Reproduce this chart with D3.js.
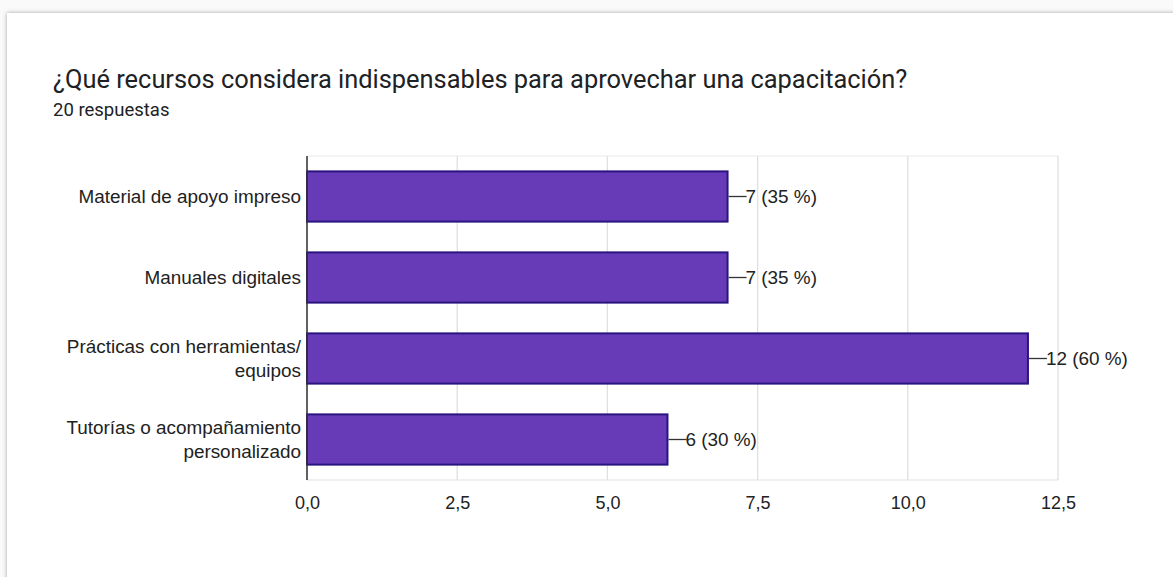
<!DOCTYPE html>
<html>
<head>
<meta charset="utf-8">
<script src="https://cdn.jsdelivr.net/npm/d3@7"></script>
<style>
  body { margin: 0; background: #fafafa; }
  svg { display: block; }
</style>
</head>
<body>
<div id="chart"></div>
<script>
const categories = [
    ["Material de apoyo impreso"],
    ["Manuales digitales"],
    ["Prácticas con herramientas/", "equipos"],
    ["Tutorías o acompañamiento", "personalizado"]
];
const counts = [7, 7, 12, 6];
const percents = [35, 35, 60, 30];
const ticks = [0, 2.5, 5, 7.5, 10, 12.5];
const title = "¿Qué recursos considera indispensables para aprovechar una capacitación?";
const subtitle = "20 respuestas";

const W = 1173, H = 577;
const margin = { top: 156, right: 115, bottom: 97, left: 307 },
      width = W - margin.left - margin.right,
      height = H - margin.top - margin.bottom;

const root = d3.select("#chart").append("svg")
    .attr("width", W)
    .attr("height", H);

const defs = root.append("defs");
const shadow = defs.append("filter").attr("id", "shadow")
    .attr("x", "-5%").attr("y", "-5%").attr("width", "110%").attr("height", "110%");
shadow.append("feDropShadow")
    .attr("dx", 0).attr("dy", 0).attr("stdDeviation", 2)
    .attr("flood-color", "#000").attr("flood-opacity", 0.35);

// card
root.append("rect")
    .attr("x", 7).attr("y", 13)
    .attr("width", W + 20).attr("height", H + 20)
    .attr("fill", "#fff")
    .attr("filter", "url(#shadow)");

root.append("text")
    .attr("x", 53).attr("y", 88)
    .attr("font-family", "Roboto, sans-serif")
    .attr("font-size", 25.4)
    .attr("fill", "#202124")
    .text(title);

root.append("text")
    .attr("x", 53).attr("y", 116)
    .attr("font-family", "Roboto, sans-serif")
    .attr("font-size", 18.5)
    .attr("fill", "#202124")
    .text(subtitle);

const svg = root.append("g")
    .attr("transform", `translate(${margin.left},${margin.top})`);

const x = d3.scaleLinear()
    .domain([0, 12.5])
    .range([0, width]);

const y = d3.scaleBand()
    .domain(d3.range(categories.length))
    .range([0, height])
    .paddingInner(0.38)
    .paddingOuter(0.19);

// grid
svg.append("g")
    .selectAll("line")
    .data(ticks)
    .join("line")
    .attr("x1", d => x(d)).attr("x2", d => x(d))
    .attr("y1", 0).attr("y2", height)
    .attr("stroke", "#e0e0e0")
    .attr("stroke-width", 1.3);

svg.append("line")
    .attr("x1", 0).attr("x2", x(12.5))
    .attr("y1", 0).attr("y2", 0)
    .attr("stroke", "#e8e8e8");
svg.append("line")
    .attr("x1", 0).attr("x2", x(12.5))
    .attr("y1", height).attr("y2", height)
    .attr("stroke", "#e0e0e0");

// x tick labels
svg.append("g")
    .attr("transform", `translate(0,${height})`)
    .call(d3.axisBottom(x)
        .tickValues(ticks)
        .tickSize(0)
        .tickPadding(16)
        .tickFormat(d => d3.format(".1f")(d).replace(".", ",")))
    .call(g => g.select(".domain").remove())
    .selectAll("text")
    .attr("font-family", "'Liberation Sans', Arial, sans-serif")
    .attr("font-size", 18)
    .attr("fill", "#222");

// bars
svg.selectAll(".bar")
    .data(counts)
    .join("rect")
    .attr("class", "bar")
    .attr("x", x(0))
    .attr("y", (d, i) => y(i))
    .attr("width", d => x(d) - x(0))
    .attr("height", y.bandwidth())
    .attr("fill", "#673ab7")
    .attr("stroke", "#2a1580")
    .attr("stroke-width", 2);

// y axis line
svg.append("line")
    .attr("x1", 0).attr("x2", 0)
    .attr("y1", 0).attr("y2", height)
    .attr("stroke", "#333")
    .attr("stroke-width", 1.5);

// category labels
const lbl = svg.append("g")
    .attr("font-family", "'Liberation Sans', Arial, sans-serif")
    .attr("font-size", 18.9)
    .attr("fill", "#222")
    .attr("text-anchor", "end");
categories.forEach((lines, i) => {
    const cy = y(i) + y.bandwidth() / 2;
    const t = lbl.append("text");
    lines.forEach((s, j) => {
        t.append("tspan")
            .attr("x", -6)
            .attr("y", cy + (j - (lines.length - 1) / 2) * 24)
            .attr("dy", "0.35em")
            .text(s);
    });
});

// value labels
const vals = svg.append("g");
counts.forEach((d, i) => {
    const cy = y(i) + y.bandwidth() / 2;
    vals.append("line")
        .attr("x1", x(d) + 1).attr("x2", x(d) + 19)
        .attr("y1", cy).attr("y2", cy)
        .attr("stroke", "#333")
        .attr("stroke-width", 1.3);
    vals.append("text")
        .attr("x", x(d) + 18)
        .attr("y", cy)
        .attr("dy", "0.35em")
        .attr("font-family", "'Liberation Sans', Arial, sans-serif")
        .attr("font-size", 18.9)
        .attr("fill", "#222")
        .text(`${d} (${percents[i]} %)`);
});
</script>
</body>
</html>
